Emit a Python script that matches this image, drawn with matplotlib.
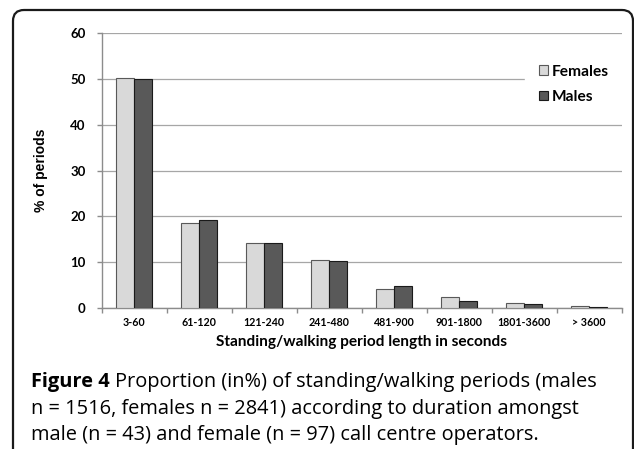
import matplotlib
matplotlib.use('Agg')
import matplotlib.pyplot as plt
import numpy as np
from matplotlib.patches import FancyBboxPatch
from matplotlib.transforms import IdentityTransform

categories = ['3-60', '61-120', '121-240', '241-480', '481-900', '901-1800', '1801-3600', '> 3600']
females = [50.2, 18.5, 14.1, 10.4, 4.0, 2.3, 1.0, 0.3]
males = [50.0, 19.1, 14.2, 10.2, 4.7, 1.5, 0.7, 0.15]
series_labels = ['Females', 'Males']
y_ticks = [0, 10, 20, 30, 40, 50, 60]

W, H = 634, 449
fig = plt.figure(figsize=(W / 100, H / 100), dpi=100)
fig.patch.set_facecolor('white')

# rounded frame around the figure, open at the bottom
frame = FancyBboxPatch((13, -30), 620, H - 10 + 30,
                       boxstyle='round,pad=0,rounding_size=11',
                       transform=IdentityTransform(), facecolor='none',
                       edgecolor='#1a1a1a', linewidth=1.6)
fig.patches.append(frame)

ax = fig.add_axes([101.7 / W, 1 - 307.7 / H, 520 / W, 274.4 / H])

x = np.arange(len(categories))
width = 0.28
ax.bar(x - width / 2, females, width, color='#d9d9d9', edgecolor='#595959',
       linewidth=0.8, label=series_labels[0], zorder=3)
ax.bar(x + width / 2, males, width, color='#595959', edgecolor='#1a1a1a',
       linewidth=0.8, label=series_labels[1], zorder=3)

ax.set_xlim(-0.5, len(categories) - 0.5)
ax.set_ylim(0, 60)
ax.set_yticks(y_ticks)
ax.yaxis.grid(True, color='#a6a6a6', linewidth=0.9, zorder=0)
ax.set_axisbelow(True)

for side in ['top', 'right']:
    ax.spines[side].set_visible(False)
for side in ['left', 'bottom']:
    ax.spines[side].set_color('#8c8c8c')
    ax.spines[side].set_linewidth(1.0)

ax.set_xticks(x)
ax.set_xticklabels(categories, fontfamily='Lato', fontweight='bold', fontsize=7.7)
ax.set_xticks(np.arange(len(categories) + 1) - 0.5, minor=True)
ax.tick_params(axis='x', which='major', length=0, pad=6.7)
ax.tick_params(axis='x', which='minor', length=3.6, color='#8c8c8c', width=1.0)
ax.tick_params(axis='y', length=3.6, color='#8c8c8c', width=1.0, pad=8)
for lab in ax.get_yticklabels():
    lab.set_fontfamily('Lato')
    lab.set_fontweight('bold')
    lab.set_fontsize(9.5)

ax.set_xlabel('Standing/walking period length in seconds', fontfamily='Lato',
              fontweight='bold', fontsize=11.1, labelpad=5)
ax.set_ylabel('% of periods', fontfamily='Liberation Sans', fontweight='bold',
              fontsize=10, labelpad=16)

leg = ax.legend(loc='center left', bbox_to_anchor=(525 / W, 1 - 84.3 / H),
                bbox_transform=fig.transFigure, frameon=True, fancybox=False,
                handlelength=0.58, handleheight=0.58, handletextpad=0.24,
                labelspacing=0.72, borderpad=0.9, borderaxespad=0,
                prop={'family': 'Lato', 'weight': 'bold', 'size': 11.2})
leg.get_frame().set_edgecolor('white')
leg.get_frame().set_facecolor('white')
leg.get_frame().set_alpha(1)

# caption with bold lead-in
fig.canvas.draw()
renderer = fig.canvas.get_renderer()
cap_size = 14.4
cap_font = 'Open Sans'
lead = fig.text(31 / W, 1 - 387.3 / H, 'Figure 4', fontfamily=cap_font,
                fontweight='bold', fontsize=cap_size, va='baseline')
bb = lead.get_window_extent(renderer)
fig.text((bb.x1 + 5) / W, 1 - 387.3 / H,
         'Proportion (in%) of standing/walking periods (males',
         fontfamily=cap_font, fontsize=cap_size, va='baseline')
fig.text(31 / W, 1 - 413.6 / H,
         'n = 1516, females n = 2841) according to duration amongst',
         fontfamily=cap_font, fontsize=cap_size, va='baseline')
fig.text(31 / W, 1 - 440 / H,
         'male (n = 43) and female (n = 97) call centre operators.',
         fontfamily=cap_font, fontsize=cap_size, va='baseline')

fig.savefig('out.png', dpi=100)
